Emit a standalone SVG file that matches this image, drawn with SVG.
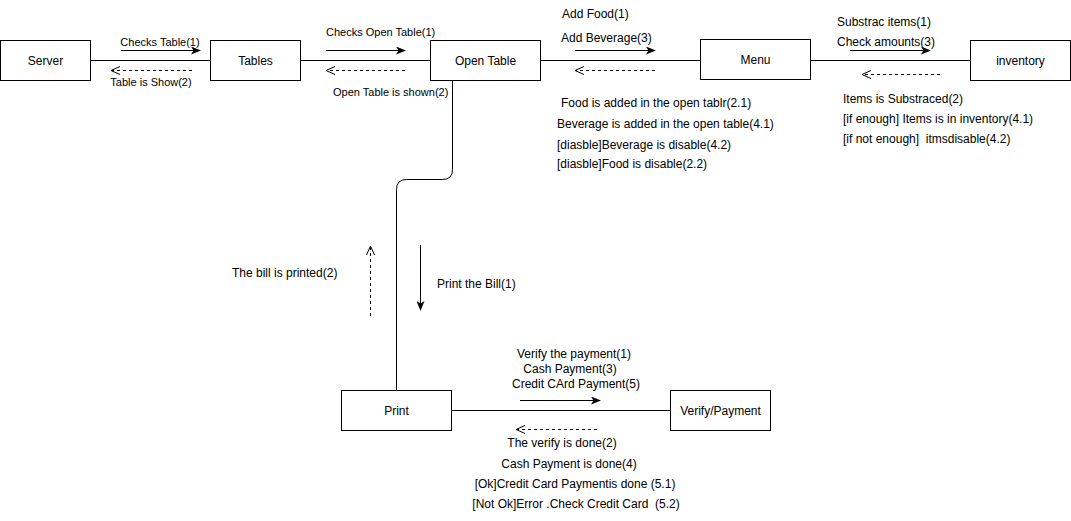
<svg xmlns="http://www.w3.org/2000/svg" width="1071" height="521" viewBox="0 0 1071 521">
<style>
.box{fill:#fff;stroke:#000;stroke-width:1}
.bt{font-family:"Liberation Sans",Arial,sans-serif;font-size:12px;fill:#000;text-anchor:middle;dominant-baseline:central}
.t{font-family:"Liberation Sans",Arial,sans-serif;font-size:12px;fill:#000}
.s{font-size:11px}
.m{text-anchor:middle}
.ln{fill:none;stroke:#000;stroke-width:1}
.sol{fill:none;stroke:#000;stroke-width:1;marker-end:url(#fill)}
.dash{fill:none;stroke:#000;stroke-width:1;stroke-dasharray:3 3;marker-end:url(#open)}
</style>
<defs>
<marker id="fill" markerWidth="10" markerHeight="8" refX="9" refY="4" orient="auto" markerUnits="userSpaceOnUse">
<path d="M0,0 L10,4 L0,8 L2.5,4 Z" fill="#000"/>
</marker>
<marker id="open" markerWidth="10" markerHeight="10" refX="9" refY="5" orient="auto" markerUnits="userSpaceOnUse">
<path d="M0,1 L9,5 L0,9" fill="none" stroke="#000" stroke-width="1"/>
</marker>
</defs>
<rect width="1071" height="521" fill="#fff"/>
<g id="connectors">
<path class="ln" d="M90.5,60.5 L210.5,60.5"/>
<path class="ln" d="M300.5,60.5 L430.5,60.5"/>
<path class="ln" d="M540.5,60.5 L700.5,60.5"/>
<path class="ln" d="M810.5,60.5 L970.5,60.5"/>
<path class="ln" d="M452.5,80.5 L452.5,169.5 Q452.5,179.5 442.5,179.5 L406.5,179.5 Q396.5,179.5 396.5,189.5 L396.5,390.5"/>
<path class="ln" d="M450.5,410.5 L670.5,410.5"/>
<path class="sol" d="M121,50.5 L200,50.5"/>
<path class="dash" d="M192,70.5 L111,70.5"/>
<path class="sol" d="M326,50.5 L405,50.5"/>
<path class="dash" d="M405,70.5 L326,70.5"/>
<path class="sol" d="M575,50.5 L655,50.5"/>
<path class="dash" d="M655,70.5 L575,70.5"/>
<path class="sol" d="M850,50.5 L930,50.5"/>
<path class="dash" d="M940,74.5 L862,74.5"/>
<path class="sol" d="M420.5,245 L420.5,310"/>
<path class="dash" d="M370.5,316 L370.5,246"/>
<path class="sol" d="M520,400.5 L600,400.5"/>
<path class="dash" d="M597,429.5 L516,429.5"/>
</g>
<g id="server"><rect class="box" x="0.5" y="40.5" width="90" height="40"/><text class="bt" x="45.5" y="60.5">Server</text></g>
<g id="tables"><rect class="box" x="210.5" y="40.5" width="90" height="40"/><text class="bt" x="255.5" y="60.5">Tables</text></g>
<g id="open-table"><rect class="box" x="430.5" y="40.5" width="110" height="40"/><text class="bt" x="485.5" y="60.5">Open Table</text></g>
<g id="menu"><rect class="box" x="700.5" y="39.5" width="110" height="40"/><text class="bt" x="755.5" y="59.5">Menu</text></g>
<g id="inventory"><rect class="box" x="970.5" y="40.5" width="100" height="40"/><text class="bt" x="1020.5" y="60.5">inventory</text></g>
<g id="print"><rect class="box" x="341.5" y="390.5" width="110" height="40"/><text class="bt" x="396.5" y="410.5">Print</text></g>
<g id="verify-payment"><rect class="box" x="670.5" y="390.5" width="100" height="40"/><text class="bt" x="720.5" y="410.5">Verify/Payment</text></g>
<g id="labels">
<text class="t s m" x="160" y="46">Checks Table(1)</text>
<text class="t s m" x="151" y="86">Table is Show(2)</text>
<text class="t s" x="326" y="36">Checks Open Table(1)</text>
<text class="t s" x="333" y="96">Open Table is shown(2)</text>
<text class="t" x="562" y="18">Add Food(1)</text>
<text class="t" x="561" y="42">Add Beverage(3)</text>
<text class="t" x="561" y="107">Food is added in the open tablr(2.1)</text>
<text class="t" x="557" y="128">Beverage is added in the open table(4.1)</text>
<text class="t" x="557" y="149">[diasble]Beverage is disable(4.2)</text>
<text class="t" x="557" y="168">[diasble]Food is disable(2.2)</text>
<text class="t" x="837" y="26">Substrac items(1)</text>
<text class="t" x="837" y="46">Check amounts(3)</text>
<text class="t" x="843" y="103">Items is Substraced(2)</text>
<text class="t" x="843" y="123">[if enough] Items is in inventory(4.1)</text>
<text class="t" x="843" y="143" xml:space="preserve">[if not enough]  itmsdisable(4.2)</text>
<text class="t" x="232" y="277">The bill is printed(2)</text>
<text class="t" x="437" y="288">Print the Bill(1)</text>
<text class="t m" x="574" y="358">Verify the payment(1)</text>
<text class="t m" x="570" y="373">Cash Payment(3)</text>
<text class="t m" x="576" y="388">Credit CArd Payment(5)</text>
<text class="t m" x="562" y="447">The verify is done(2)</text>
<text class="t m" x="569" y="468">Cash Payment is done(4)</text>
<text class="t m" x="575" y="488">[Ok]Credit Card Paymentis done (5.1)</text>
<text class="t m" x="576" y="508" xml:space="preserve">[Not Ok]Error .Check Credit Card  (5.2)</text>
</g>
</svg>
